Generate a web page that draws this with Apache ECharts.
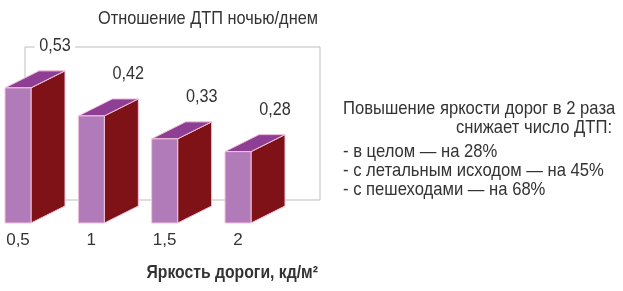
<!DOCTYPE html>
<html>
<head>
<meta charset="utf-8">
<script src="https://cdn.jsdelivr.net/npm/echarts@6/dist/echarts.min.js"></script>
<style>
  html, body { margin: 0; padding: 0; background: #fff; }
  #chart { width: 623px; height: 291px; }
</style>
</head>
<body>
<div id="chart"></div>
<script>
// яркость дороги, кд/м2
const brightness = ['0,5', '1', '1,5', '2'];
// отношение ДТП ночью/днем
const ratio = [0.53, 0.42, 0.33, 0.28];
// текст справа
const noteHead = ['Повышение яркости дорог в 2 раза', 'снижает число ДТП:'];
const noteItems = ['- в целом — на 28%', '- с летальным исходом — на 45%', '- с пешеходами — на 68%'];

const FONT = '"Liberation Sans", Arial, sans-serif';
const TEXT = '#333';
const SX = 0.875; // узкий шрифт

const chart = echarts.init(document.getElementById('chart'));

function label(x, y, text, font, align, sx) {
  return {
    type: 'text',
    x: x,
    y: y,
    scaleX: sx,
    style: { text: text, fill: TEXT, font: font, align: align, verticalAlign: 'middle' }
  };
}

// 3d коробка: фронт, бок, верх
function renderBox(params, api) {
  const v = api.value(1);
  const top = api.coord([api.value(0), v]);
  const base = api.coord([api.value(0), 0]);
  const hw = 13, dx = 34, dy = 17;
  const xl = top[0] - hw, xr = top[0] + hw, yt = top[1], yb = base[1];
  const edge = { stroke: '#f2c4dc', lineWidth: 1, lineJoin: 'round' };
  return {
    type: 'group',
    children: [
      {
        type: 'polygon',
        shape: { points: [[xr, yt], [xr + dx, yt - dy], [xr + dx, yb - dy], [xr, yb]] },
        style: Object.assign({ fill: '#7e1216' }, edge)
      },
      {
        type: 'polygon',
        shape: { points: [[xl, yt], [xr, yt], [xr + dx, yt - dy], [xl + dx, yt - dy]] },
        style: Object.assign({ fill: '#8e3f94' }, edge)
      },
      {
        type: 'rect',
        shape: { x: xl, y: yt, width: hw * 2, height: yb - yt },
        style: Object.assign({ fill: '#b07bb8' }, edge)
      },
      {
        type: 'text',
        x: top[0] + 37,
        y: yt - 42,
        scaleX: 0.9,
        style: {
          text: v.toFixed(2).replace('.', ','),
          fill: TEXT,
          font: '18px ' + FONT,
          align: 'center',
          verticalAlign: 'middle',
          backgroundColor: '#fff',
          padding: [0, 5]
        }
      }
    ]
  };
}

const option = {
  animation: false,
  grid: { left: 18, right: 385, top: 19, bottom: 68 },
  xAxis: {
    type: 'category',
    data: brightness,
    boundaryGap: false,
    axisLine: { show: false },
    axisTick: { show: false },
    axisLabel: { margin: 9, fontFamily: FONT, fontSize: 17, color: TEXT }
  },
  yAxis: { type: 'value', min: 0, max: 0.8, show: false },
  graphic: [
    {
      type: 'polyline',
      z: 0,
      shape: { points: [[25, 100], [25, 47], [320, 47], [320, 200], [25, 200]] },
      style: { stroke: '#bdbdbd', lineWidth: 1, fill: null }
    },
    label(318, 19, 'Отношение ДТП ночью/днем', '19px ' + FONT, 'right', 0.86),
    label(318, 273, 'Яркость дороги, кд/м²', 'bold 18px ' + FONT, 'right', SX),
    label(343, 109, noteHead[0], '19px ' + FONT, 'left', SX),
    label(612, 128, noteHead[1], '19px ' + FONT, 'right', SX)
  ].concat(noteItems.map((t, i) => label(343, 152 + i * 19, t, '19px ' + FONT, 'left', SX))),
  series: [{
    type: 'custom',
    renderItem: renderBox,
    data: ratio.map((v, i) => [i, v]),
    z: 5
  }]
};

chart.setOption(option);
</script>
</body>
</html>
